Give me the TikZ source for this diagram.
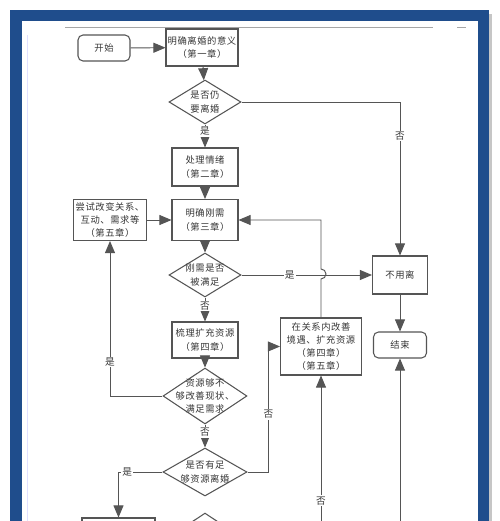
\documentclass[tikz,border=0pt]{standalone}
\usepackage{fontspec}
\setmainfont{Noto Sans CJK SC}
\newfontfamily\chartfont[LetterSpace=6]{Noto Sans CJK SC}
\usepackage{tikz}
\usetikzlibrary{arrows}
\usetikzlibrary{shapes.geometric}
\definecolor{frameblue}{RGB}{31,77,140}
\definecolor{linegray}{RGB}{85,85,85}
\definecolor{textgray}{RGB}{55,55,55}
\tikzstyle{box}=[rectangle, draw=linegray, line width=.6pt, text=textgray, align=center, inner sep=0pt, font=\chartfont\fontsize{5.3}{7.5}\selectfont]
\tikzstyle{term}=[box, rounded corners=1mm]
\tikzstyle{dtext}=[text=textgray, align=center, inner sep=0pt, font=\chartfont\fontsize{5.3}{7.5}\selectfont]
\tikzstyle{decision}=[diamond, draw=linegray, line width=.6pt, inner sep=0pt]
\tikzstyle{flow}=[draw=linegray, line width=.55pt, -triangle 45]
\tikzstyle{yn}=[fill=white, inner sep=.6pt, text=textgray, font=\fontsize{5.5}{6}\selectfont]

\begin{document}
\begin{tikzpicture}[x=.02cm, y=-.02cm]
    \useasboundingbox (0,0) rectangle (500,521);
    \clip (0,0) rectangle (500,521);

    % page frame
    \fill[frameblue] (10,10) rectangle (489,540);
    \fill[gray!45] (489,14) rectangle (492,540);
    \fill[white] (21.5,20.5) rectangle (478,540);
    \draw[gray!70, line width=.4pt] (65,27) -- (433,27);
    \draw[gray!70, line width=.4pt] (457,27) -- (466,27);
    \draw[blue!12, line width=.5pt] (27.5,35) -- (27.5,540);

    % main column
    \node[term, minimum width=1.04cm, minimum height=.52cm] (start) at (104,48) {开始};
    \node[box, minimum width=1.44cm, minimum height=.74cm] (meaning) at (202,47.5) {明确离婚的意义\\（第一章）};
    \node[decision, minimum width=1.44cm, minimum height=.88cm, label={[dtext]center:{是否仍\\要离婚}}] (still) at (205,102) {};
    \node[box, minimum width=1.32cm, minimum height=.76cm] (mood) at (205,167) {处理情绪\\（第二章）};
    \node[box, minimum width=1.32cm, minimum height=.82cm] (need) at (205,220) {明确刚需\\（第三章）};
    \node[box, minimum width=1.46cm, minimum height=.82cm] (try) at (110,220) {尝试改变关系、\\互动、需求等\\（第五章）};
    \node[decision, minimum width=1.44cm, minimum height=.88cm, label={[dtext]center:{刚需是否\\被满足}}] (met) at (205,275) {};
    \node[box, minimum width=1.32cm, minimum height=.72cm] (sort) at (205,340) {梳理扩充资源\\（第四章）};
    \node[decision, minimum width=1.68cm, minimum height=1.12cm, label={[dtext]center:{资源够不\\够改善现状、\\满足需求}}] (enough) at (205,396) {};
    \node[decision, minimum width=1.68cm, minimum height=.96cm, label={[dtext]center:{是否有足\\够资源离婚}}] (leave) at (205,472) {};
    \node[decision, minimum width=1.68cm, minimum height=1.12cm] (next) at (205,541) {};
    \node[box, minimum width=1.46cm, minimum height=.68cm] (low) at (118.5,535) {};

    % right column
    \node[box, minimum width=1.1cm, minimum height=.76cm] (stay) at (400,275) {不用离};
    \node[term, minimum width=1.06cm, minimum height=.52cm] (stop) at (400,345) {结束};
    \node[box, minimum width=1.62cm, minimum height=1.14cm] (inside) at (321,346.5) {在关系内改善\\境遇、扩充资源\\（第四章）\\（第五章）};
    \coordinate (insidein) at (321,530);
    \coordinate (stopin) at (400,530);

    \draw[flow] (start) -- (meaning);
    \draw[flow] (meaning) -- (still);
    \draw[flow] (still.east) -| (stay.north) node[yn, pos=.61] {否};
    \draw[flow] (still) -- (mood) node[yn, pos=.3] {是};
    \draw[flow] (mood) -- (need);
    \draw[flow] (try) -- (need);
    \draw[flow] (need) -- (met);
    \draw[flow] (met.east) -- (stay.west) node[yn, pos=.37] {是};
    \draw[flow] (inside.north) -- ++(0,-38.5) arc[start angle=-90, end angle=90, radius=.1cm] |- (need.east);
    \draw[flow] (met) -- (sort) node[yn, pos=.35] {否};
    \draw[flow] (sort) -- (enough);
    \draw[flow] (enough.west) -| (try.south) node[yn, pos=.61] {是};
    \draw[flow] (enough) -- (leave) node[yn, pos=.35] {否};
    \draw[flow] (leave.east) -- ++(21,0) |- (inside.west) node[yn, pos=.23] {否};
    \draw[flow] (leave.west) -| (low.north) node[yn, pos=.4] {是};
    \draw[flow] (stay) -- (stop);
    \draw[flow] (insidein) -- (inside.south) node[yn, pos=.19] {否};
    \draw[flow] (stopin) -- (stop.south);
  \end{tikzpicture}
\end{document}
